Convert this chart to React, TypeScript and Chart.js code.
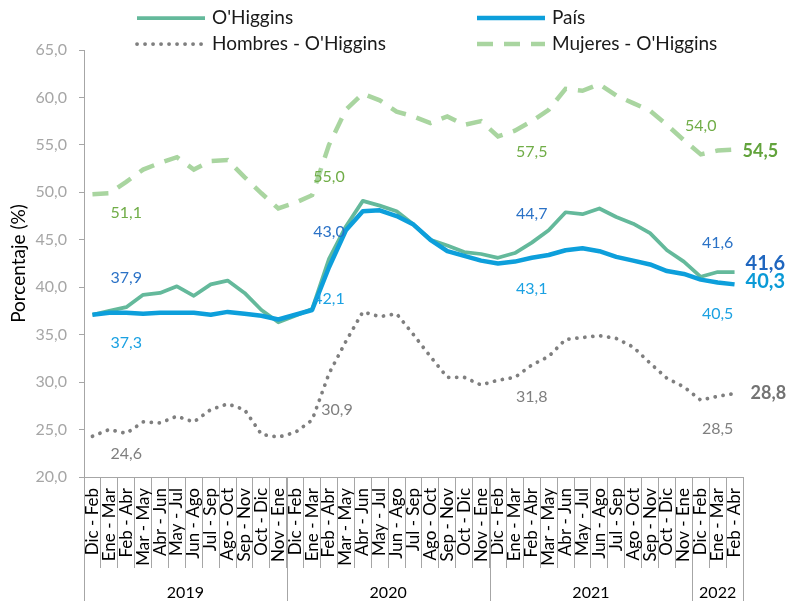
import React, { useEffect, useRef } from "react";
import { Chart, registerables } from "chart.js";

Chart.register(...registerables);

// ---- data ----
const periods = [
  "Dic - Feb", "Ene - Mar", "Feb - Abr", "Mar - May", "Abr - Jun", "May - Jul",
  "Jun - Ago", "Jul - Sep", "Ago - Oct", "Sep - Nov", "Oct - Dic", "Nov - Ene",
];
const years = ["2019", "2020", "2021", "2022"];
const periodsPerYear = [12, 12, 12, 3];
const categories: string[] = years.flatMap((_, k) => periods.slice(0, periodsPerYear[k]));

const ohiggins = [
  37.1, 37.5, 37.9, 39.2, 39.4, 40.1, 39.1, 40.3, 40.7, 39.4, 37.6, 36.3,
  37.0, 37.7, 43.0, 46.4, 49.1, 48.6, 48.0, 46.6, 45.0, 44.4, 43.7, 43.5,
  43.1, 43.6, 44.7, 46.0, 47.9, 47.7, 48.3, 47.4, 46.7, 45.7, 43.9, 42.7,
  41.1, 41.6, 41.6,
];
const pais = [
  37.1, 37.3, 37.3, 37.2, 37.3, 37.3, 37.3, 37.1, 37.4, 37.2, 37.0, 36.6,
  37.1, 37.6, 42.1, 46.0, 48.0, 48.1, 47.5, 46.6, 45.0, 43.8, 43.3, 42.8,
  42.5, 42.7, 43.1, 43.4, 43.9, 44.1, 43.8, 43.2, 42.8, 42.4, 41.7, 41.4,
  40.8, 40.5, 40.3,
];
const hombres = [
  24.3, 25.0, 24.6, 25.8, 25.7, 26.4, 25.8, 27.1, 27.7, 27.1, 24.5, 24.2,
  24.7, 26.0, 30.9, 34.3, 37.4, 36.9, 37.2, 35.0, 32.7, 30.5, 30.5, 29.7,
  30.2, 30.5, 31.8, 32.7, 34.5, 34.7, 34.9, 34.6, 33.7, 32.0, 30.4, 29.5,
  28.1, 28.5, 28.8,
];
const mujeres = [
  49.8, 49.9, 51.1, 52.4, 53.1, 53.7, 52.4, 53.3, 53.4, 51.6, 49.9, 48.3,
  48.9, 49.7, 55.0, 58.7, 60.4, 59.7, 58.5, 58.0, 57.3, 58.0, 57.1, 57.5,
  55.9, 56.5, 57.5, 58.7, 60.9, 60.7, 61.4, 60.2, 59.4, 58.6, 57.1, 55.5,
  54.0, 54.4, 54.5,
];
const yMin = 20;
const yMax = 65;
const yStep = 5;

// ---- styles / annotation layout ----
const FONT = "Lato";
const fmt = (v: number) => v.toFixed(1).replace(".", ",");

// dataset index: 0 País, 1 O'Higgins, 2 Hombres, 3 Mujeres
const labelColors = ["#1ba1e2", "#2b72c6", "#7f7f7f", "#70ad47"];
const endColors = ["#0a9ad6", "#1f66bf", "#737373", "#62a33c"];
const pointLabels = [
  { ds: 3, idx: 2, dx: 0, dy: 31 },
  { ds: 1, idx: 2, dx: 0, dy: -29 },
  { ds: 0, idx: 2, dx: 0, dy: 30 },
  { ds: 2, idx: 2, dx: 0, dy: 20 },
  { ds: 3, idx: 14, dx: 0, dy: 32 },
  { ds: 1, idx: 14, dx: 0, dy: -27 },
  { ds: 0, idx: 14, dx: 0, dy: 32 },
  { ds: 2, idx: 14, dx: 8, dy: 36 },
  { ds: 3, idx: 26, dx: 0, dy: 31 },
  { ds: 1, idx: 26, dx: 0, dy: -29 },
  { ds: 0, idx: 26, dx: 0, dy: 31 },
  { ds: 2, idx: 26, dx: 0, dy: 32 },
  { ds: 3, idx: 36, dx: 0, dy: -29 },
  { ds: 1, idx: 37, dx: 0, dy: -29 },
  { ds: 0, idx: 37, dx: 0, dy: 31 },
  { ds: 2, idx: 37, dx: 0, dy: 32 },
];
const endLabels = [
  { ds: 3, dx: 8, dy: 2, size: 18 },
  { ds: 1, dx: 11, dy: -8, size: 20 },
  { ds: 0, dx: 11, dy: -3, size: 20 },
  { ds: 2, dx: 16, dy: 0, size: 18 },
];
const legendItems = [
  { ds: 1, x: 137, y: 18 },
  { ds: 0, x: 477, y: 18 },
  { ds: 2, x: 137, y: 44 },
  { ds: 3, x: 477, y: 44 },
];

const overlay = {
  id: "overlay",
  afterDraw(chart: any) {
    const ctx = chart.ctx as CanvasRenderingContext2D;
    const xs = chart.scales.x;
    const ys = chart.scales.y;
    const area = chart.chartArea;
    const H = chart.height;

    // year separators + labels
    ctx.save();
    ctx.strokeStyle = "#a6a6a6";
    ctx.lineWidth = 1;
    const edge = (i: number) => {
      if (i <= 0) return area.left;
      if (i >= categories.length) return area.right;
      return (xs.getPixelForTick(i) + xs.getPixelForTick(i - 1)) / 2;
    };
    let start = 0;
    const bounds: number[] = [0];
    periodsPerYear.forEach((n) => {
      start += n;
      bounds.push(start);
    });
    bounds.forEach((b) => {
      const x = Math.round(edge(b)) + 0.5;
      ctx.beginPath();
      ctx.moveTo(x, area.bottom);
      ctx.lineTo(x, H);
      ctx.stroke();
    });
    ctx.fillStyle = "#000";
    ctx.font = `16px ${FONT}`;
    ctx.textAlign = "center";
    ctx.textBaseline = "middle";
    years.forEach((yr, k) => {
      const x = (edge(bounds[k]) + edge(bounds[k + 1])) / 2;
      ctx.fillText(yr, x, 593);
    });

    // point annotations
    pointLabels.forEach((l) => {
      const v = chart.data.datasets[l.ds].data[l.idx] as number;
      const px = xs.getPixelForValue(l.idx);
      const py = ys.getPixelForValue(v);
      ctx.fillStyle = labelColors[l.ds];
      ctx.font = `16px ${FONT}`;
      ctx.textAlign = "center";
      ctx.fillText(fmt(v), px + l.dx, py + l.dy);
    });
    endLabels.forEach((l) => {
      const data = chart.data.datasets[l.ds].data as number[];
      const idx = data.length - 1;
      const px = xs.getPixelForValue(idx);
      const py = ys.getPixelForValue(data[idx]);
      ctx.fillStyle = endColors[l.ds];
      ctx.font = `bold ${l.size}px ${FONT}`;
      ctx.textAlign = "left";
      ctx.fillText(fmt(data[idx]), px + l.dx, py + l.dy);
    });

    // legend
    legendItems.forEach((it) => {
      const ds = chart.data.datasets[it.ds];
      ctx.save();
      ctx.strokeStyle = ds.borderColor;
      ctx.lineWidth = ds.borderWidth;
      ctx.lineCap = ds.borderCapStyle || "butt";
      ctx.setLineDash(ds.borderDash || []);
      ctx.beginPath();
      ctx.moveTo(it.x, it.y);
      ctx.lineTo(it.x + 68, it.y);
      ctx.stroke();
      ctx.restore();
      ctx.fillStyle = "#1a1a1a";
      ctx.font = `19px ${FONT}`;
      ctx.textAlign = "left";
      ctx.textBaseline = "middle";
      ctx.fillText(ds.label, it.x + 75, it.y);
    });
    ctx.restore();
  },
};

export default function App() {
  const ref = useRef<HTMLCanvasElement | null>(null);
  useEffect(() => {
    if (!ref.current) return;
    const chart = new Chart(ref.current, {
      type: "line",
      data: {
        labels: categories,
        datasets: [
          {
            label: "País",
            data: pais,
            borderColor: "#0d9fdb",
            borderWidth: 4.5,
            pointRadius: 0,
            borderJoinStyle: "round",
            order: 0,
          },
          {
            label: "O'Higgins",
            data: ohiggins,
            borderColor: "#64b99b",
            borderWidth: 3.75,
            pointRadius: 0,
            borderJoinStyle: "round",
            order: 1,
          },
          {
            label: "Hombres - O'Higgins",
            data: hombres,
            borderColor: "#7f7f7f",
            borderWidth: 3.75,
            borderDash: [0.1, 7.9],
            borderCapStyle: "round",
            pointRadius: 0,
            order: 2,
          },
          {
            label: "Mujeres - O'Higgins",
            data: mujeres,
            borderColor: "#a9d5a0",
            borderWidth: 4.5,
            borderDash: [16, 11],
            pointRadius: 0,
            order: 3,
          },
        ] as any,
      },
      options: {
        responsive: false,
        animation: false,
        devicePixelRatio: 1,
        layout: { padding: { top: 50, right: 44, left: 0, bottom: 0 } },
        plugins: { legend: { display: false }, tooltip: { enabled: false } },
        scales: {
          x: {
            type: "category",
            offset: true,
            grid: {
              display: true,
              drawOnChartArea: false,
              drawTicks: true,
              tickLength: 91,
              offset: true,
              color: "#a6a6a6",
            },
            border: { display: true, color: "#a6a6a6" },
            ticks: {
              autoSkip: false,
              maxRotation: 90,
              minRotation: 90,
              padding: -80,
              color: "#000",
              font: { family: FONT, size: 17 },
            },
            afterFit: (s: any) => {
              s.height = 124;
            },
          },
          y: {
            min: yMin,
            max: yMax,
            grid: { drawOnChartArea: false, tickLength: 5, color: "#a6a6a6" },
            border: { color: "#a6a6a6" },
            ticks: {
              stepSize: yStep,
              padding: 12,
              color: "#a6a6a6",
              font: { family: FONT, size: 16 },
              callback: (v: any) => fmt(Number(v)),
            },
            title: {
              display: true,
              text: "Porcentaje (%)",
              color: "#000",
              font: { family: FONT, size: 19 },
              padding: { top: 7, bottom: 0 },
            },
            afterFit: (s: any) => {
              s.width = 84;
            },
          },
        },
      } as any,
      plugins: [overlay],
    });
    return () => chart.destroy();
  }, []);
  return (
    <div style={{ position: "absolute", left: 0, top: 0, width: 787, height: 601, background: "#fff" }}>
      <canvas ref={ref} width={787} height={601} style={{ display: "block" }} />
    </div>
  );
}
